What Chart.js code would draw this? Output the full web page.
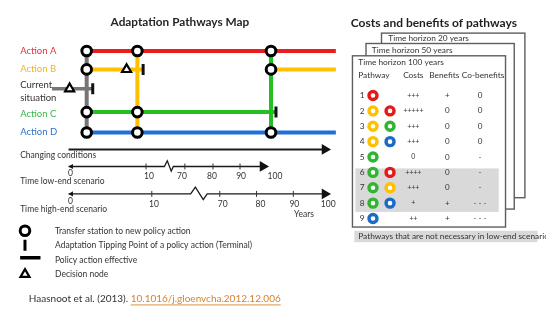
<!DOCTYPE html>
<html><head><meta charset="utf-8">
<script src="https://cdn.jsdelivr.net/npm/chart.js@4.4.1/dist/chart.umd.min.js"></script>
<style>html,body{margin:0;padding:0;background:#fff;}canvas{display:block}</style>
</head><body>
<canvas id="c" width="546" height="315"></canvas>
<script>
// ================= DATA =================
// --- Adaptation pathways map (x = changing conditions, y = action row) ---
const actionNames = ['Action A', 'Action B', 'Current situation', 'Action C', 'Action D'];
const actionRows = [0, 0.9, 1.85, 3, 4];
const lineColors = ['#ee1b1b', '#ffc000', '#767676', '#22c022', '#1e6fd9'];
const labelColors = ['#e83038', '#f0b619', '#333333', '#3ab847', '#2e72c8'];
// horizontal segments: [action, fromCondition, toCondition]
const hSegments = [[2, -6.3, 9.2], [0, 6.9, 101.8], [1, 6.9, 28.4], [1, 77.1, 101.8], [3, 6.9, 79.0], [4, 6.9, 101.8]];
// vertical connectors: [colour of action, condition]
const vConnectors = [[2, 6.9], [1, 26.2], [3, 77.1]];
// transfer stations: [condition, action]
const transferStations = [[6.9, 0], [6.9, 1], [6.9, 3], [6.9, 4], [26.2, 0], [26.2, 3], [26.2, 4], [77.1, 0], [77.1, 1], [77.1, 4]];
const tippingPoints = [[9.2, 2], [28.4, 1], [79.0, 3]];
const decisionNodes = [[0.4, 2], [22.1, 1]];

// --- time axes (years placed along the condition axis) ---
const lowYears = ['0', '10', '70', '80', '90', '100'];
const lowYearPos = [0.7, 30.6, 43.2, 54.6, 65.7, 78.6];
const lowTickPos = [29.5, 44.3, 55.0, 65.3];
const lowBreakPos = [36.5, 37.6, 39.1, 39.9];
const highYears = ['0', '10', '70', '80', '90', '100'];
const highYearPos = [0.7, 32.5, 58.7, 73.1, 86.0, 98.9];
const highTickPos = [31.7, 57.6, 71.6, 85.6];
const highBreakPos = [46.5, 48.3, 51.3, 52.8];

// --- costs and benefits table ---
const pathwayNo = ['1', '2', '3', '4', '5', '6', '7', '8', '9'];
const pathwayActions = [[0], [1, 0], [1, 3], [1, 4], [3], [3, 0], [3, 1], [3, 4], [4]];
const costs = ['+++', '+++++', '+++', '+++', '0', '++++', '+++', '+', '++'];
const benefits = ['+', '0', '0', '0', '0', '0', '0', '+', '+'];
const coBenefits = ['0', '0', '0', '0', '-', '-', '-', '- - -', '- - -'];
const tableHeaders = ['Pathway', 'Costs', 'Benefits', 'Co-benefits'];
const horizons = ['Time horizon 20 years', 'Time horizon 50 years', 'Time horizon 100 years'];
const notNecessaryRows = [6, 7, 8];
const ringColors = ['#e41a1a', '#ffc000', '#777777', '#2fb52f', '#1a6bc6'];

// --- legend ---
const legendTexts = ['Transfer station to new policy action', 'Adaptation Tipping Point of a policy action (Terminal)', 'Policy action effective', 'Decision node'];

// ================= LAYOUT =================
const ROW_LEVEL = {cc: 4.837, low: 5.674, high: 7.023};
const ZIG_LOW = [0, -0.28, 0.23, 0];
const ZIG_HIGH = [0, -0.33, 0.28, 0];
const COL = {num: 0, ring: [0.7, 1.8], costs: 3.3, benefits: 5.5, co: 7.6, hBen: 5.3, hCo: 7.8};
const HORIZON_BOXES = [[1.25, 10.5, -3.06, 7.646], [0.25, 9.8125, -2.385, 8.385], [-0.625, 9.25, -1.585, 9.554]];
const HORIZON_TEXT = [[1.6875, -2.692], [0.625, -1.954], [-0.25, -1.154]];

const MAPF = '"Lato", "Liberation Sans", sans-serif';
const dsList = [];
const M = {xAxisID: 'xc', yAxisID: 'yr'};
function lineDs(data, color, width, axes, extra) {
  return Object.assign({data, showLine: true, borderColor: color, borderWidth: width, pointRadius: 0, fill: false, tension: 0}, axes, extra || {});
}
function ptDs(data, opts, axes) {
  return Object.assign({data, showLine: false}, opts, axes);
}
const stationStyle = {pointStyle: 'circle', pointRadius: 4.8, pointBorderWidth: 3, pointBorderColor: '#000', pointBackgroundColor: '#fff'};
const tipStyle = {pointStyle: 'line', pointRotation: 90, pointRadius: 5.5, pointBorderWidth: 3, pointBorderColor: '#111', pointBackgroundColor: '#111'};
const nodeStyle = {pointStyle: 'triangle', pointRadius: 5.2, pointBorderWidth: 2.2, pointBorderColor: '#000', pointBackgroundColor: '#fff'};

// vertical connectors
vConnectors.forEach(([a, c]) => dsList.push(lineDs([{x: c, y: actionRows[0]}, {x: c, y: actionRows[4]}], lineColors[a], 4, M)));
// horizontal segments
hSegments.forEach(([a, c0, c1]) => dsList.push(lineDs([{x: c0, y: actionRows[a]}, {x: c1, y: actionRows[a]}], lineColors[a], a === 2 ? 3.5 : 4, M)));
dsList.push(ptDs(transferStations.map(([c, a]) => ({x: c, y: actionRows[a]})), stationStyle, M));
dsList.push(ptDs(tippingPoints.map(([c, a]) => ({x: c, y: actionRows[a]})), tipStyle, M));
dsList.push(ptDs(decisionNodes.map(([c, a]) => ({x: c, y: actionRows[a]})), nodeStyle, M));

// time axes
dsList.push(lineDs([{x: 0, y: ROW_LEVEL.cc}, {x: 98, y: ROW_LEVEL.cc}], '#1a1a1a', 2, M));
const lowLine = [{x: 0, y: ROW_LEVEL.low}].concat(lowBreakPos.map((c, i) => ({x: c, y: ROW_LEVEL.low + ZIG_LOW[i]}))).concat([{x: 74.3, y: ROW_LEVEL.low}]);
dsList.push(lineDs(lowLine, '#1a1a1a', 1.3, M));
const highLine = [{x: 0, y: ROW_LEVEL.high}].concat(highBreakPos.map((c, i) => ({x: c, y: ROW_LEVEL.high + ZIG_HIGH[i]}))).concat([{x: 98, y: ROW_LEVEL.high}]);
dsList.push(lineDs(highLine, '#1a1a1a', 1.3, M));
dsList.push(ptDs(lowTickPos.map(c => ({x: c, y: ROW_LEVEL.low})).concat(highTickPos.map(c => ({x: c, y: ROW_LEVEL.high}))),
  {pointStyle: 'line', pointRotation: 90, pointRadius: 3, pointBorderWidth: 1, pointBorderColor: '#333'}, M));
dsList.push(ptDs([{x: 97.6, y: ROW_LEVEL.cc}, {x: 74.0, y: ROW_LEVEL.low}, {x: 97.6, y: ROW_LEVEL.high}],
  {pointStyle: 'triangle', pointRotation: 90, pointRadius: 6.2, pointBorderWidth: 0, pointBackgroundColor: '#111'}, M));
dsList.push(ptDs([{x: 1.1, y: ROW_LEVEL.low}, {x: 1.1, y: ROW_LEVEL.high}],
  {pointStyle: 'triangle', pointRotation: -90, pointRadius: 3, pointBorderWidth: 0, pointBackgroundColor: '#111'}, M));

// legend marks
const L = {xAxisID: 'xc', yAxisID: 'yl'};
dsList.push(ptDs([{x: -16.6, y: 0}], stationStyle, L));
dsList.push(ptDs([{x: -16.6, y: 1}], Object.assign({}, tipStyle, {pointBorderColor: '#000'}), L));
dsList.push(lineDs([{x: -18.45, y: 1.85}, {x: -10.7, y: 1.85}], '#000', 3.5, L));
dsList.push(ptDs([{x: -16.6, y: 3}], nodeStyle, L));

// table rings
const ringPts = [], ringCols = [];
pathwayActions.forEach((acts, r) => acts.forEach((a, j) => { ringPts.push({x: COL.ring[j], y: r + 1}); ringCols.push(ringColors[a]); }));
dsList.push(ptDs(ringPts, {pointStyle: 'circle', pointRadius: 4, pointBorderWidth: 3.4, pointBorderColor: ringCols, pointBackgroundColor: '#fff'}, {xAxisID: 'xt', yAxisID: 'yt'}));

// ================= TEXTS =================
const texts = [];
function T(xs, ys, x, y, parts, font, align) { texts.push({xs, ys, x, y, parts: Array.isArray(parts) ? parts : [{text: parts, color: '#333'}], font, align: align || 'left'}); }
const f = (s, w) => (w || '') + ' ' + s + 'px ' + MAPF;
T('xc', 'yr', 42.4, -1.44, [{text: 'Adaptation Pathways Map', color: '#262626'}], f(11.8, 'bold'), 'center');
actionNames.forEach((n, i) => {
  if (i === 2) {
    T('xc', 'yr', -18.45, 1.674, [{text: 'Current', color: labelColors[i]}], f(9.5));
    T('xc', 'yr', -18.45, 2.326, [{text: 'situation', color: labelColors[i]}], f(9.5));
  } else T('xc', 'yr', -18.45, actionRows[i] + (i === 3 ? 0.1 : 0), [{text: n, color: labelColors[i]}], f(9.5));
});
T('xc', 'yr', -18.45, 5.116, 'Changing conditions', f(8.5));
lowYears.forEach((y, i) => T('xc', 'yr', lowYearPos[i], i === 0 ? 6.0 : 6.14, y, f(8.5), 'center'));
T('xc', 'yr', -18.45, 6.419, 'Time low-end scenario', f(8.5));
highYears.forEach((y, i) => T('xc', 'yr', highYearPos[i], i === 0 ? 7.37 : 7.535, y, f(8.5), 'center'));
T('xc', 'yr', -18.45, 7.767, 'Time high-end scenario', f(8.5));
T('xc', 'yr', 89.67, 8.047, 'Years', f(8.5), 'center');
legendTexts.forEach((t, i) => T('xc', 'yl', -5.17, i, t, f(8.5)));
T('xc', 'yl', -15.13, 4.697, [{text: 'Haasnoot et al. (2013). ', color: '#333'}, {text: '10.1016/j.gloenvcha.2012.12.006', color: '#d9822b', underline: true}], f(10));

T('xt', 'yt', 4.625, -3.738, [{text: 'Costs and benefits of pathways', color: '#1f1f1f'}], f(12, 'bold'), 'center');
horizons.forEach((h, i) => T('xt', 'yt', HORIZON_TEXT[i][0], HORIZON_TEXT[i][1], h, f(8.3)));
T('xt', 'yt', -0.25, -0.292, tableHeaders[0], f(8.3));
T('xt', 'yt', COL.costs, -0.292, tableHeaders[1], f(8.3), 'center');
T('xt', 'yt', COL.hBen, -0.292, tableHeaders[2], f(8.3), 'center');
T('xt', 'yt', COL.hCo, -0.292, tableHeaders[3], f(8.3), 'center');
pathwayNo.forEach((n, r) => {
  T('xt', 'yt', COL.num, r + 1, n, f(8.3), 'center');
  T('xt', 'yt', COL.costs, r + 1, costs[r], f(7), 'center');
  T('xt', 'yt', COL.benefits, r + 1, benefits[r], f(8), 'center');
  T('xt', 'yt', COL.co, r + 1, coBenefits[r], f(8), 'center');
});
T('xt', 'yt', -0.25, 10.17, 'Pathways that are not necessary in low-end scenario', f(8.3));

// ================= PLUGIN =================
const decor = {
  id: 'decor',
  beforeDatasetsDraw(chart) {
    const {ctx} = chart, xt = chart.scales.xt, yt = chart.scales.yt;
    ctx.save();
    HORIZON_BOXES.forEach(b => {
      const x0 = xt.getPixelForValue(b[0]), x1 = xt.getPixelForValue(b[1]);
      const y0 = yt.getPixelForValue(b[2]), y1 = yt.getPixelForValue(b[3]);
      ctx.fillStyle = '#fff'; ctx.fillRect(x0, y0, x1 - x0, y1 - y0);
      ctx.strokeStyle = '#5e5e5e'; ctx.lineWidth = 1.4; ctx.strokeRect(x0, y0, x1 - x0, y1 - y0);
    });
    // shading of pathways not necessary in low-end scenario
    const r0 = Math.min(...notNecessaryRows) - 0.26, r1 = Math.max(...notNecessaryRows) + 0.57;
    const sx0 = xt.getPixelForValue(-0.4375), sx1 = xt.getPixelForValue(8.8125);
    ctx.fillStyle = '#d9d9d9';
    ctx.fillRect(sx0, yt.getPixelForValue(r0), sx1 - sx0, yt.getPixelForValue(r1) - yt.getPixelForValue(r0));
    // caption band
    const cx0 = xt.getPixelForValue(-0.5), cx1 = xt.getPixelForValue(11.3125);
    ctx.fillRect(cx0, yt.getPixelForValue(9.8), cx1 - cx0, yt.getPixelForValue(10.54) - yt.getPixelForValue(9.8));
    ctx.restore();
  },
  afterDatasetsDraw(chart) {
    const {ctx} = chart;
    ctx.save();
    ctx.textBaseline = 'middle';
    texts.forEach(t => {
      const px = chart.scales[t.xs].getPixelForValue(t.x), py = chart.scales[t.ys].getPixelForValue(t.y);
      ctx.font = t.font;
      const total = t.parts.reduce((s, p) => s + ctx.measureText(p.text).width, 0);
      let x = t.align === 'center' ? px - total / 2 : px;
      ctx.textAlign = 'left';
      t.parts.forEach(p => {
        ctx.fillStyle = p.color;
        ctx.fillText(p.text, x, py);
        const w = ctx.measureText(p.text).width;
        if (p.underline) {
          ctx.strokeStyle = p.color; ctx.lineWidth = 0.9;
          ctx.beginPath(); ctx.moveTo(x, py + 6); ctx.lineTo(x + w, py + 6); ctx.stroke();
        }
        x += w;
      });
    });
    ctx.restore();
  }
};

const hidden = (min, max, reverse) => ({type: 'linear', display: false, min, max, reverse: !!reverse});
new Chart(document.getElementById('c'), {
  type: 'scatter',
  data: {datasets: dsList.slice().reverse()},
  options: {
    responsive: false, animation: false, devicePixelRatio: 1, events: [],
    layout: {padding: 0},
    plugins: {legend: {display: false}, tooltip: {enabled: false}, title: {display: false}},
    scales: {
      xc: hidden(-22.878, 178.6),
      yr: hidden(-2.093, 12.558, true),
      yl: hidden(-15.33, 5.22, true),
      xt: hidden(-22.8125, 11.3125),
      yt: hidden(-4.6615, 14.723, true)
    }
  },
  plugins: [decor]
});
</script>
</body></html>
